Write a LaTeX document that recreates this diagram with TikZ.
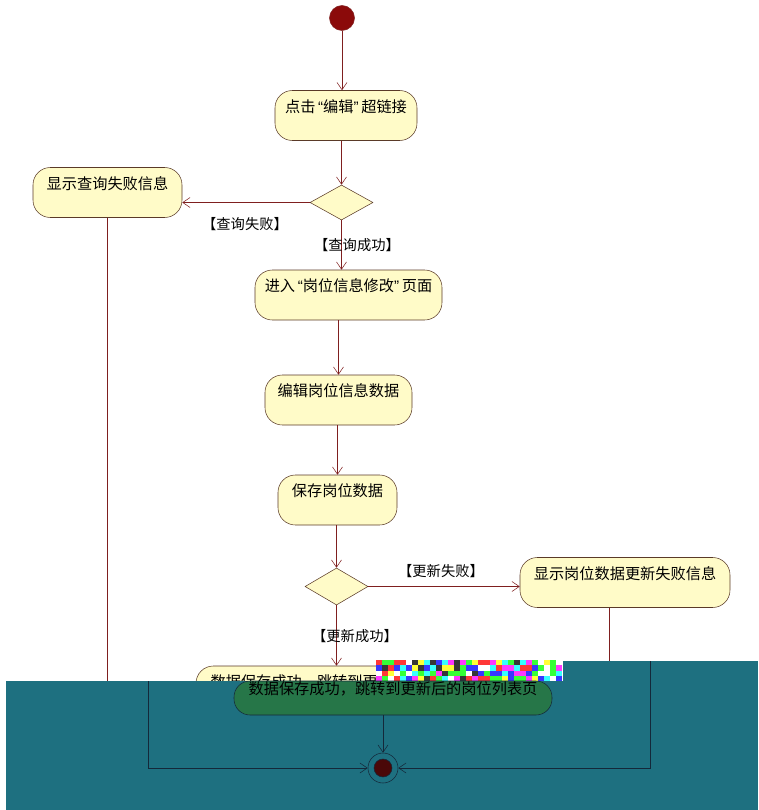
\documentclass[tikz,border=0pt]{standalone}
\usepackage{fontspec}
\setmainfont{Noto Sans CJK SC}
\newfontfamily\quotefont{Liberation Sans}
\usetikzlibrary{arrows.meta,shapes.geometric}
\definecolor{cLine}{HTML}{7F1F1F}
\definecolor{cEdge}{HTML}{5A3A28}
\definecolor{cFill}{HTML}{FFFBC8}
\definecolor{cDot}{HTML}{8B0A0A}
\definecolor{cTeal}{HTML}{1E7080}
\definecolor{cGreen}{HTML}{267648}
\definecolor{cNavy}{HTML}{14283A}
\definecolor{cCore}{HTML}{4A0808}
\newcommand{\openq}{\hspace{2pt}{\quotefont “}}
\newcommand{\closeq}{{\quotefont ”}\hspace{2pt}}
\tikzset{
  act/.style={draw=cEdge,fill=cFill,rounded corners=13pt,inner xsep=0pt,inner ysep=4pt,
              text height=12.3pt,text depth=17.2pt,font=\fontsize{11.4pt}{14pt}\selectfont},
  choice/.style={diamond,draw=cEdge,fill=cFill,inner sep=0pt,
              minimum width=47.25pt,minimum height=26.25pt},
  guard/.style={inner sep=1pt,font=\fontsize{10.7pt}{13pt}\selectfont},
  startdot/.style={circle,draw=cLine,fill=cDot,inner sep=0pt,minimum size=18.75pt},
  flow/.style={draw=cLine,-{Straight Barb[length=5.5pt,width=7.5pt]}},
  wire/.style={draw=cLine},
  navyflow/.style={draw=cNavy,-{Straight Barb[length=5.5pt,width=7.5pt]}},
}
\begin{document}
\begin{tikzpicture}[x=0.75pt,y=-0.75pt]
  \useasboundingbox (0,0) rectangle (758,810);
  % activity nodes
  \node[startdot] (start) at (342,18) {};
  \node[act,minimum width=106.5pt] (click) at (346,115.5) {点击\openq 编辑\closeq 超链接};
  \node[choice] (q) at (341.5,202.5) {};
  \node[act,minimum width=111.75pt] (qfail) at (107.5,192.5) {显示查询失败信息};
  \node[act,minimum width=140.25pt] (enter) at (348.5,295) {进入\openq 岗位信息修改\closeq 页面};
  \node[act,minimum width=110.25pt] (edit) at (338.5,400) {编辑岗位信息数据};
  \node[act,minimum width=89.25pt] (save) at (337.5,500) {保存岗位数据};
  \node[choice,minimum height=27.75pt] (u) at (336.5,586.5) {};
  \node[act,minimum width=157.5pt] (ufail) at (625,582.5) {显示岗位数据更新失败信息};
  \node[act,minimum width=238.5pt] (done) at (355,691) {数据保存成功，跳转到更新后的岗位列表页};
  % flows
  \draw[flow] (start) -- (start |- click.north);
  \draw[flow] (click.south -| q.north) -- (q.north);
  \draw[flow] (q.west) -- (q.west -| qfail.east);
  \draw[flow] (q.south) -- (q.south |- enter.north);
  \draw[flow] (enter.south -| edit.north) -- (edit.north);
  \draw[flow] (edit.south -| save.north) -- (save.north);
  \draw[flow] (save.south -| u.north) -- (u.north);
  \draw[flow] (u.east) -- (u.east -| ufail.west);
  \draw[flow] (u.south) -- (u.south |- done.north);
  \coordinate (qfailend) at (107.5,690);
  \coordinate (ufailend) at (609,670);
  \draw[wire] (qfail.south) -- (qfailend);
  \draw[wire] (ufail.south -| ufailend) -- (ufailend);
  % guards
  \node[guard] (qno) at (245,224) {【查询失败】};
  \node[guard] (qyes) at (357,245) {【查询成功】};
  \node[guard] (uno) at (441,571) {【更新失败】};
  \node[guard] (uyes) at (355,636) {【更新成功】};
  % damaged lower band
  \fill[cTeal] (6,681) rectangle (758,810);
  \fill[cTeal] (563,661) rectangle (758,681);
  \pgfmathsetseed{7}
  \foreach \i in {0,...,30}
    \foreach \j in {0,...,3} {
      \pgfmathtruncatemacro\nr{round(rnd)*200+55}
      \pgfmathtruncatemacro\ng{round(rnd)*200+55}
      \pgfmathtruncatemacro\nb{round(rnd)*200+55}
      \definecolor{noise}{RGB}{\nr,\ng,\nb}
      \fill[noise] (376+6*\i,660+5.25*\j) rectangle ++(6,5.25);
    }
  \node[act,draw=cNavy,fill=cGreen,rounded corners=12pt,inner ysep=2pt,
        text height=7.75pt,text depth=13.75pt,minimum width=238.5pt]
    (doneB) at (393,698) {数据保存成功，跳转到更新后的岗位列表页};
  \node[circle,draw=cNavy,fill=cTeal,inner sep=0pt,minimum size=22.5pt] (finish) at (383,768) {};
  \node[circle,draw=cNavy,fill=cCore,inner sep=0pt,minimum size=13.5pt] (finishcore) at (finish) {};
  \draw[navyflow] (doneB.south -| finish) -- (finish.north);
  \coordinate (leftB) at (148,681);
  \coordinate (rightB) at (650,661);
  \draw[navyflow] (leftB) |- (finish.west);
  \draw[navyflow] (rightB) |- (finish.east);
\end{tikzpicture}
\end{document}
